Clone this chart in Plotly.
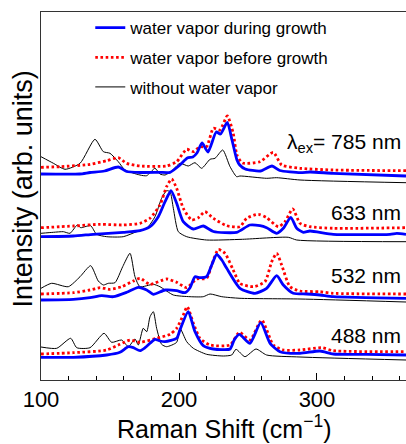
import plotly.graph_objects as go

# ---- data (Raman shift in cm^-1, intensity in arb. units, stacked) ----
S785_DURING_X = [100,128,135.5,146,156,162,172,186,193.5,200.7,206,210,213,216.7,221,227,230,235,238.4,242,244,248,259,267.4,273,288,295,311.6,364.5]
S785_DURING_Y = [206,206,207.5,209,213,208.5,207.5,207.7,207.7,215,222,223,227,237,228,248,246,257.5,240,220,215,211,209,214,209.5,207.3,208,206.7,204]
S785_BEFORE_X = [100,113.8,135.5,147.6,156,162,171.7,191,198.3,205.6,210.4,215.2,220,224.9,229.7,235,239.3,242,246,258.7,268.3,274.4,287.7,311.6,364.5]
S785_BEFORE_Y = [212.7,213.3,215.7,219.3,222.3,216.7,214,214,218.3,230.7,228.3,233.3,233.3,251.7,250,264,246.7,225,217,218.3,227.7,215,211.7,210,209.3]
S785_WITHOUT_X = [100,109,117.4,128.3,139.1,145.2,150,156,160.9,171.7,176.6,182.6,186.2,189.9,194.7,200.7,206.7,211.6,216.4,222.5,226.1,231.7,237,241.8,244.2,263.5,270.8,287.7,364.5]
S785_WITHOUT_Y = [223.3,216.7,210.7,216.7,240.7,228.3,226.7,218.3,210,205,204.3,211.7,206,205,209,216.7,214,217.3,211.7,220.7,221.7,230,213.3,203.3,204,201.7,202.3,200,197.3]

S633_DURING_X = [100,123.4,137.9,159.6,171.7,179,185,189.9,194.2,198.3,203.1,210.4,217.6,224.9,241.8,251.4,258.7,263.5,270.8,275.6,281,285.3,290.1,294.9,311.8,352.9,357.8,364.5]
S633_DURING_Y = [143.3,144,145.7,147.7,149.3,153.3,163.3,178.3,189.3,176.7,158.3,151,154,148.5,147.7,155,154.3,152.3,146.7,151.7,162.7,151.7,147.7,149,145.7,145.7,146.7,145.7]
S633_BEFORE_X = [100,123.4,142.8,159.6,171.7,179,186.2,191,194.7,198.3,203.1,209.2,214,218.8,224.9,234.6,244.2,249,257.5,263.5,272,276.8,282.4,287.7,294.9,311.8,364.5]
S633_BEFORE_Y = [152.3,154,155.7,155,156.7,161.7,175,193.3,201,191.7,171.7,160,162.3,168.3,161.7,154.3,153.3,161.7,165.7,162.3,153.3,158.3,171,156.7,153.3,151.7,152.3]
S633_WITHOUT_X = [100,109,116.2,121,126.3,128.8,131.9,136,140.3,147.6,159.6,169.3,176.6,182.6,187.4,191,193.5,195.9,199.5,205.6,220,246,279.2,285.3,364.5]
S633_WITHOUT_Y = [146.7,147.7,148.3,146.7,155,152.3,153.3,154.3,145.7,143.3,143.3,148.3,151.7,163.3,181.7,189.3,188.3,171.7,148.3,143.3,140,140.7,142.7,140,138.3]

S532_DURING_X = [100,123.4,135.5,144,152.4,162.1,170.5,176.6,181.4,189.9,198.3,204.3,208,211.6,215.2,220,223.7,227.3,231,234.6,244.2,255.1,263.5,270.8,275.6,282.8,292.5,302.2,311.8,364.5]
S532_DURING_Y = [80,80.7,82.3,84.3,83.3,87.7,92.7,90,85.7,90,89.3,87.3,92.3,103.3,102.3,103.3,115,125.5,120,111.7,91.7,86.7,91.7,104.3,95,86.7,86,85,83.3,81.7]
S532_BEFORE_X = [100,123.4,135.5,142.8,150,158.5,166.9,171.7,179,191,198.3,205.6,212.8,220,223.7,228.5,233.3,239.3,244.2,253.9,262.3,267.2,270.8,274.4,280.4,287.7,302.2,311.8,364.5]
S532_BEFORE_Y = [86,87.3,90,92.3,90.7,93.3,99,101.7,95.7,101,97.7,92.3,101,101.7,115,130.5,126.7,110,96.5,93.3,98.3,118.3,126.7,115,93.3,89,88.3,86.7,86]
S532_WITHOUT_X = [100,107.7,119.8,128.3,136,141.5,145.2,148.8,153.6,159.2,164.5,168.1,171.7,181.4,186.2,195.9,208,217.6,222.5,231,244.2,287.7,364.5]
S532_WITHOUT_Y = [91.7,96.7,93.3,103.3,114.3,99,95,96.7,97.3,113.3,126.7,103.3,93.3,95.7,93.3,85,83.3,83.3,86,83.3,81.7,81,78]

S488_DURING_X = [100,123.4,147.6,157.2,163.3,166.9,171.7,175.4,179,182.6,186.2,189.9,198.3,200.7,206.7,211.6,217.6,224.9,237,240,243.7,251.4,259.2,266,273.2,287.7,302.2,311.8,336,364.5]
S488_DURING_Y = [22.7,22.7,25,27.7,33.3,32.3,29.3,32.3,36.7,40.7,39,38.3,41.7,50,68.3,48.3,34.3,31,31,40,45.7,36.7,57.3,36.7,28.3,26.7,29,26,25.7,25]
S488_BEFORE_X = [100,123.4,147.6,157.2,164.5,171.7,183.8,193.5,198.3,203.1,206,210.4,215.2,222.5,237,243.7,251.4,259.9,268.3,275.6,287.7,303.4,311.8,364.5]
S488_BEFORE_Y = [26,27.3,30,35.7,40,37.7,41.7,45.7,51.7,65,73.3,56.7,41.7,35,35,47.7,40,60,35,30,30,32.3,29.3,28.3]
S488_WITHOUT_X = [100,111.4,121.5,125.9,135.5,145.7,151.2,158.5,163.3,168.1,170.5,174.1,176.6,179,181.4,183.8,187.4,191,198.3,200.7,205.6,210.4,220,232.1,238.2,241.3,247.8,255.8,263.5,287.7,364.5]
S488_WITHOUT_Y = [33,31.7,41.7,32.3,32.3,46.7,37.7,40,33.3,41,35,51.7,48.3,63.3,68.3,51.7,35.7,33.3,37.7,51.7,38.3,31.7,25.7,24,25,30.7,23.3,31,25,23,20]

SERIES_NAMES = ["water vapor during growth", "water vapor before growth", "without water vapor"]
EXCITATION_LABELS = ["λ<sub>ex</sub>= 785 nm", "633 nm", "532 nm", "488 nm"]
LABEL_Y = [237, 168, 105, 45]
X_TICKS = [100, 200, 300]

FONT = "Arial, Liberation Sans, sans-serif"
styles = {
    "water vapor during growth": dict(color="#0000ff", width=2.8, dash="solid"),
    "water vapor before growth": dict(color="#ff0000", width=2.8, dash="2.6px,2.6px"),
    "without water vapor": dict(color="#000000", width=1.0, dash="solid"),
}

groups = [
    (S785_DURING_X, S785_DURING_Y, S785_BEFORE_X, S785_BEFORE_Y, S785_WITHOUT_X, S785_WITHOUT_Y),
    (S633_DURING_X, S633_DURING_Y, S633_BEFORE_X, S633_BEFORE_Y, S633_WITHOUT_X, S633_WITHOUT_Y),
    (S532_DURING_X, S532_DURING_Y, S532_BEFORE_X, S532_BEFORE_Y, S532_WITHOUT_X, S532_WITHOUT_Y),
    (S488_DURING_X, S488_DURING_Y, S488_BEFORE_X, S488_BEFORE_Y, S488_WITHOUT_X, S488_WITHOUT_Y),
]

fig = go.Figure()
# draw order: black first, then red, then blue on top
order = [2, 1, 0]
for gi, g in enumerate(groups):
    for si in order:
        name = SERIES_NAMES[si]
        xs, ys = g[2 * si], g[2 * si + 1]
        fig.add_trace(go.Scatter(
            x=xs, y=ys, mode="lines", name=name,
            line=dict(shape="spline", smoothing=0.6, **styles[name]),
            showlegend=(gi == 0), legendgroup=name, legendrank=si + 1,
        ))

for lab, ly in zip(EXCITATION_LABELS, LABEL_Y):
    fig.add_annotation(x=362.5, y=ly, xref="x", yref="y", text=lab, showarrow=False,
                       xanchor="right", yanchor="middle",
                       font=dict(family=FONT, size=21, color="black"))

fig.add_annotation(x=0.5, y=-0.127, xref="paper", yref="paper", text="Raman Shift (cm<sup>−1</sup>)",
                   showarrow=False, xanchor="center", yanchor="middle",
                   font=dict(family=FONT, size=25, color="black"))
fig.add_annotation(x=-0.05, y=0.52, xref="paper", yref="paper", text="Intensity (arb. units)",
                   showarrow=False, textangle=-90, xanchor="center", yanchor="middle",
                   font=dict(family=FONT, size=27, color="black"))

fig.update_layout(
    width=406, height=444,
    margin=dict(l=41, r=0, t=12, b=64),
    paper_bgcolor="white", plot_bgcolor="white",
    font=dict(family=FONT, color="black"),
    legend=dict(x=0.135, y=1.005, xanchor="left", yanchor="top",
                font=dict(family=FONT, size=17), bgcolor="rgba(0,0,0,0)",
                tracegroupgap=4.5, itemwidth=30),
    xaxis=dict(range=[100, 364.5], tickvals=X_TICKS, ticks="inside", ticklen=7,
               tickcolor="black", showline=True, linecolor="#333", linewidth=1,
               mirror=True, showgrid=False, zeroline=False,
               tickfont=dict(family=FONT, size=22, color="black"),
               minor=dict(dtick=20, ticks="inside", ticklen=4, tickcolor="black", showgrid=False)),
    yaxis=dict(range=[0, 368], showticklabels=False, ticks="", showline=True,
               linecolor="#333", linewidth=1, mirror=False, showgrid=False, zeroline=False),
)

fig.write_html("out.html")
